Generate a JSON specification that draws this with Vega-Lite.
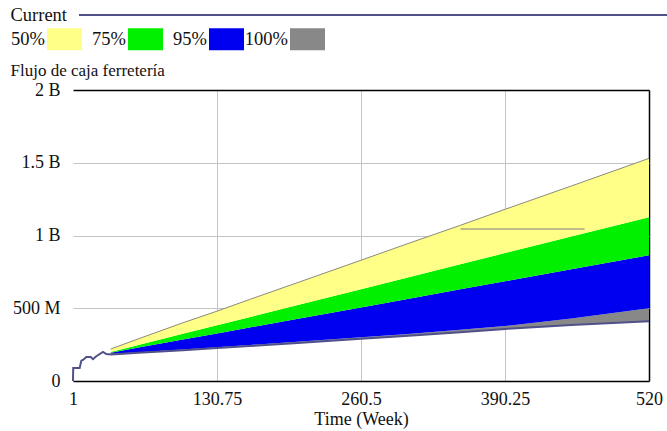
{
  "$schema": "https://vega.github.io/schema/vega-lite/v6.json",
  "width": 576,
  "height": 291,
  "autosize": {"type": "none"},
  "padding": {"left": 73, "top": 90, "right": 18, "bottom": 50},
  "background": "white",
  "config": {
    "view": {"stroke": null},
    "font": "Liberation Serif",
    "axis": {"labelFont": "Liberation Serif", "titleFont": "Liberation Serif", "labelColor": "#111111", "titleColor": "#111111", "ticks": false},
    "legend": {"labelFont": "Liberation Serif", "labelColor": "#111111"}
  },
  "datasets": {
    "bands": [
      {"t": 35, "top50": 220000000, "top75": 200000000, "top95": 195000000, "top100": 187000000, "bottom": 183000000},
      {"t": 60, "top50": 290000000, "top75": 248000000, "top95": 230000000, "top100": 198000000, "bottom": 194000000},
      {"t": 100, "top50": 400000000, "top75": 324000000, "top95": 285000000, "top100": 216000000, "bottom": 211000000},
      {"t": 130.75, "top50": 480000000, "top75": 383000000, "top95": 327000000, "top100": 232000000, "bottom": 226000000},
      {"t": 160, "top50": 560000000, "top75": 439000000, "top95": 368000000, "top100": 247000000, "bottom": 240000000},
      {"t": 200, "top50": 667000000, "top75": 515000000, "top95": 423000000, "top100": 268000000, "bottom": 260000000},
      {"t": 260.5, "top50": 830000000, "top75": 631000000, "top95": 506000000, "top100": 300000000, "bottom": 290000000},
      {"t": 300, "top50": 937000000, "top75": 706000000, "top95": 561000000, "top100": 322000000, "bottom": 310000000},
      {"t": 350, "top50": 1070000000, "top75": 802000000, "top95": 630000000, "top100": 352000000, "bottom": 335000000},
      {"t": 390.25, "top50": 1180000000, "top75": 879000000, "top95": 685000000, "top100": 378000000, "bottom": 358000000},
      {"t": 450, "top50": 1340000000, "top75": 993000000, "top95": 768000000, "top100": 430000000, "bottom": 385000000},
      {"t": 520, "top50": 1530000000, "top75": 1126000000, "top95": 864000000, "top100": 500000000, "bottom": 410000000}
    ],
    "current": [
      {"t": 1, "v": 0},
      {"t": 1.2, "v": 89000000},
      {"t": 7, "v": 90000000},
      {"t": 8.5, "v": 140000000},
      {"t": 10, "v": 145000000},
      {"t": 13, "v": 165000000},
      {"t": 17, "v": 165000000},
      {"t": 19, "v": 150000000},
      {"t": 22, "v": 170000000},
      {"t": 28, "v": 200000000},
      {"t": 31, "v": 185000000},
      {"t": 35, "v": 183000000},
      {"t": 60, "v": 194000000},
      {"t": 100, "v": 211000000},
      {"t": 130.75, "v": 226000000},
      {"t": 160, "v": 240000000},
      {"t": 200, "v": 260000000},
      {"t": 260.5, "v": 290000000},
      {"t": 300, "v": 310000000},
      {"t": 350, "v": 335000000},
      {"t": 390.25, "v": 358000000},
      {"t": 450, "v": 385000000},
      {"t": 520, "v": 410000000}
    ],
    "stray": [
      {"t": 350, "v": 1045000000},
      {"t": 462, "v": 1045000000}
    ]
  },
  "layer": [
    {
      "data": {"name": "bands"},
      "mark": {"type": "area", "opacity": 1},
      "encoding": {
        "x": {
          "field": "t", "type": "quantitative",
          "scale": {"domain": [1, 520], "nice": false, "zero": false},
          "axis": {
            "values": [1, 130.75, 260.5, 390.25, 520],
            "labelExpr": "'' + datum.value",
            "title": "Time (Week)",
            "grid": true,
            "gridColor": {"condition": {"test": "datum.value == 520", "value": "#000000"}, "value": "#c4c4c4"},
            "gridWidth": {"condition": {"test": "datum.value == 520", "value": 1.5}, "value": 1},
            "gridOpacity": {"condition": {"test": "datum.value == 1", "value": 0}, "value": 1},
            "domainColor": "#000000",
            "domainWidth": 1.5,
            "labelFlush": false,
            "labelFontSize": 18,
            "labelPadding": 9,
            "titleFontSize": 18,
            "titleFontWeight": "normal",
            "titlePadding": 2
          }
        },
        "y": {
          "field": "top100", "type": "quantitative",
          "scale": {"domain": [0, 2000000000], "nice": false},
          "axis": {
            "values": [0, 500000000, 1000000000, 1500000000, 2000000000],
            "labelExpr": "datum.value == 0 ? '0' : (datum.value < 1000000000 ? (datum.value / 1000000) + ' M' : (datum.value / 1000000000) + ' B')",
            "grid": true,
            "gridColor": {"condition": {"test": "datum.value == 2000000000", "value": "#000000"}, "value": "#c4c4c4"},
            "gridWidth": {"condition": {"test": "datum.value == 2000000000", "value": 1.5}, "value": 1},
            "domain": false,
            "labelFontSize": 18,
            "labelPadding": 13,
            "title": "Flujo de caja ferretería",
            "titleAngle": 0,
            "titleAlign": "left",
            "titleBaseline": "alphabetic",
            "titleX": -63,
            "titleY": -15,
            "titleFontSize": 17,
            "titleFontWeight": "normal"
          }
        },
        "y2": {"field": "bottom"},
        "fill": {
          "datum": "100%", "type": "nominal",
          "scale": {"domain": ["50%", "75%", "95%", "100%"], "range": ["#ffff88", "#00f000", "#0000f0", "#888888"]},
          "legend": {
            "orient": "none",
            "legendX": -26,
            "legendY": -68.5,
            "direction": "horizontal",
            "title": null,
            "padding": 0,
            "gridAlign": "all",
            "symbolType": "M-1,-0.63L1,-0.63L1,0.63L-1,0.63Z",
            "symbolSize": 1225,
            "symbolStrokeWidth": 0,
            "symbolOpacity": 1,
            "labelAlign": "right",
            "labelOffset": -37,
            "labelFontSize": 18.5,
            "columnPadding": 0
          }
        }
      }
    },
    {
      "data": {"name": "bands"},
      "mark": {"type": "area", "opacity": 1},
      "encoding": {
        "x": {"field": "t", "type": "quantitative"},
        "y": {"field": "top95", "type": "quantitative"},
        "y2": {"field": "top100"},
        "fill": {"datum": "95%", "type": "nominal"}
      }
    },
    {
      "data": {"name": "bands"},
      "mark": {"type": "area", "opacity": 1},
      "encoding": {
        "x": {"field": "t", "type": "quantitative"},
        "y": {"field": "top75", "type": "quantitative"},
        "y2": {"field": "top95"},
        "fill": {"datum": "75%", "type": "nominal"}
      }
    },
    {
      "data": {"name": "bands"},
      "mark": {"type": "area", "opacity": 1},
      "encoding": {
        "x": {"field": "t", "type": "quantitative"},
        "y": {"field": "top50", "type": "quantitative"},
        "y2": {"field": "top75"},
        "fill": {"datum": "50%", "type": "nominal"}
      }
    },
    {
      "data": {"name": "bands"},
      "mark": {"type": "line", "color": "#8a8a78", "strokeWidth": 1},
      "encoding": {
        "x": {"field": "t", "type": "quantitative"},
        "y": {"field": "top50", "type": "quantitative"}
      }
    },
    {
      "data": {"name": "stray"},
      "mark": {"type": "line", "color": "#aaa98c", "strokeWidth": 1.5},
      "encoding": {
        "x": {"field": "t", "type": "quantitative"},
        "y": {"field": "v", "type": "quantitative"}
      }
    },
    {
      "data": {"name": "current"},
      "mark": {"type": "line", "strokeWidth": 2},
      "encoding": {
        "x": {"field": "t", "type": "quantitative"},
        "y": {"field": "v", "type": "quantitative"},
        "stroke": {
          "datum": "Current", "type": "nominal",
          "scale": {"domain": ["Current"], "range": ["#50508a"]},
          "legend": {
            "orient": "none",
            "legendX": 5,
            "legendY": -370.5,
            "title": null,
            "padding": 0,
            "symbolType": "stroke",
            "symbolSize": 346921,
            "symbolStrokeWidth": 2,
            "symbolStrokeColor": "#6a6a8c",
            "labelAlign": "right",
            "labelOffset": -602,
            "labelFontSize": 18.5
          }
        }
      }
    }
  ]
}
